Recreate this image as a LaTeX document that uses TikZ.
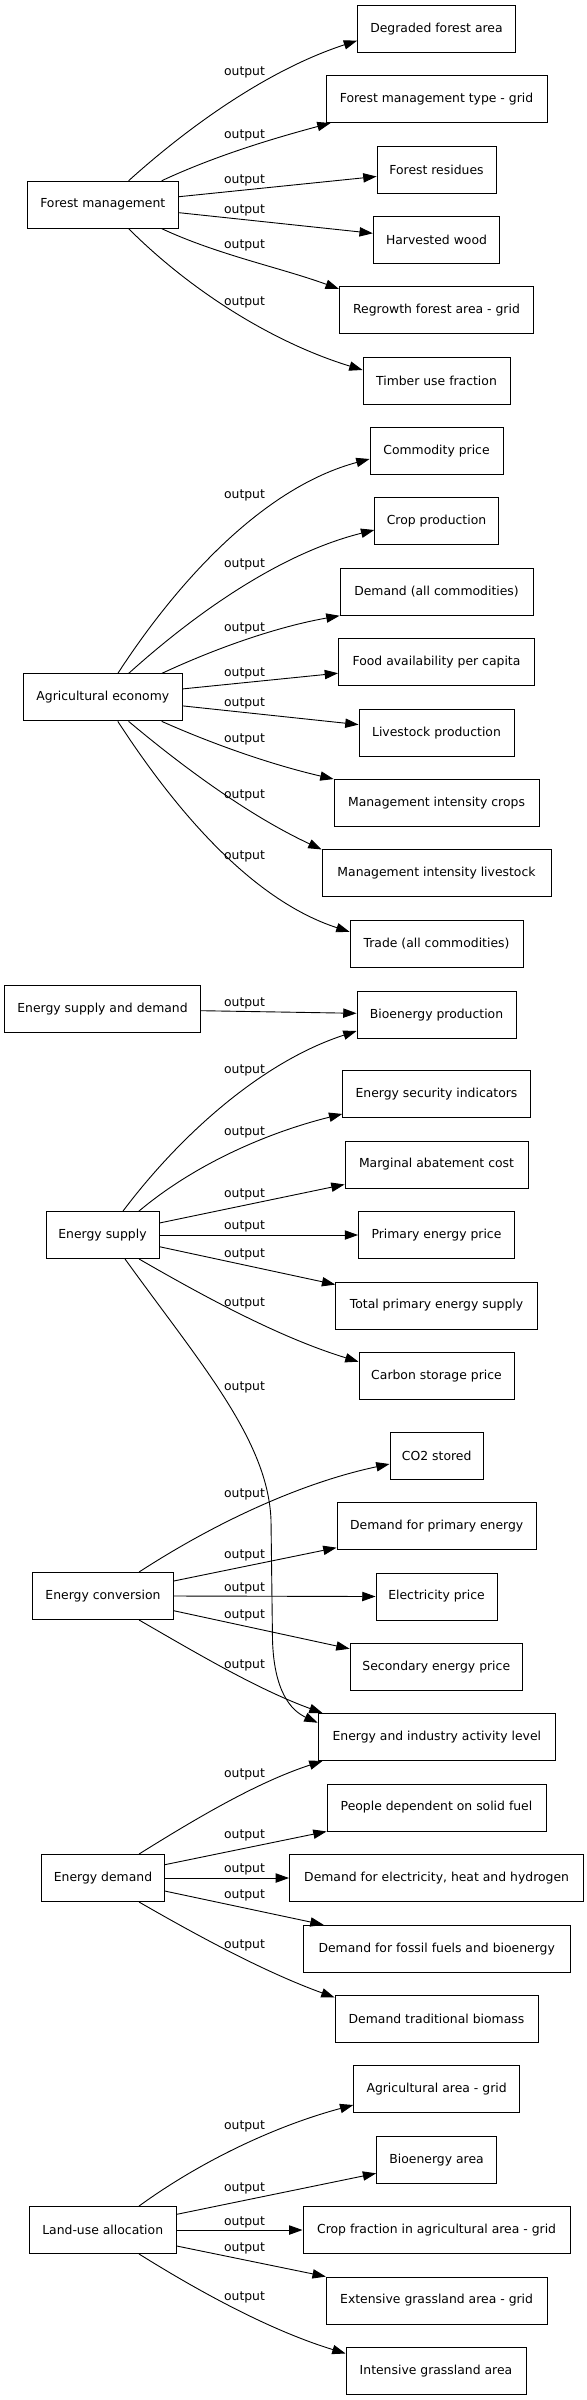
\documentclass[tikz,border=0pt]{standalone}
\usepackage{fontspec}
\setmainfont{DejaVu Sans}
\usetikzlibrary{arrows.meta}
\begin{document}
\begin{tikzpicture}[x=1pt,y=1pt,
  box/.style={draw=black, line width=0.9pt, minimum height=47pt, inner sep=0pt, font=\fontsize{12.4}{14}\selectfont},
  edge/.style={draw=black, line width=0.9pt, -{Triangle[length=13.3pt,width=9.3pt]}},
  lbl/.style={font=\fontsize{12.4}{14}\selectfont, inner sep=0pt},
  crv/.style={looseness=0.85}
]
\fill[white] (0,0) rectangle (586,-2400);
\useasboundingbox (0,0) rectangle (586,-2400);

% ---------- Forest management ----------
\node[box, minimum width=151.6pt] (fm) at (102.8,-204.7) {Forest management};
\node[box, minimum width=158pt] (deg) at (436.5,-28.7) {Degraded forest area};
\node[box, minimum width=221pt] (fmt) at (436.5,-99.1) {Forest management type - grid};
\node[box, minimum width=119pt] (res) at (436.5,-169.5) {Forest residues};
\node[box, minimum width=126.5pt] (harv) at (436.5,-239.9) {Harvested wood};
\node[box, minimum width=194.5pt] (regr) at (436.5,-310.3) {Regrowth forest area - grid};
\node[box, minimum width=147pt] (timb) at (436.5,-380.7) {Timber use fraction};

\draw[edge] ([xshift=25.8pt]fm.north) to[out=42,in=198,crv] ([yshift=-12pt]deg.west);
\draw[edge] ([xshift=58.9pt]fm.north) to[out=25,in=195,crv] ([xshift=5pt]fmt.south west);
\draw[edge] ([yshift=8pt]fm.east) -- ([yshift=-7pt]res.west);
\draw[edge] ([yshift=-8pt]fm.east) -- ([yshift=6.6pt]harv.west);
\draw[edge] ([xshift=58.9pt]fm.south) to[out=-25,in=160,crv] ([yshift=-2.5pt]regr.north west);
\draw[edge] ([xshift=25.8pt]fm.south) to[out=-45,in=163,crv] ([yshift=10.7pt]timb.west);

\node[lbl] (l11) at (244.5,-72) {output};
\node[lbl] (l12) at (244.5,-135.7) {output};
\node[lbl] (l13) at (244.5,-180.7) {output};
\node[lbl] (l14) at (244.5,-210.7) {output};
\node[lbl] (l15) at (244.5,-245.7) {output};
\node[lbl] (l16) at (244.5,-302.7) {output};

% ---------- Agricultural economy ----------
\node[box, minimum width=159pt] (ae) at (102.8,-697.4) {Agricultural economy};
\node[box, minimum width=133pt] (com) at (436.5,-451) {Commodity price};
\node[box, minimum width=123.5pt] (crop) at (436.5,-521.4) {Crop production};
\node[box, minimum width=193pt] (dem) at (436.5,-591.8) {Demand (all commodities)};
\node[box, minimum width=196pt] (food) at (436.5,-662.2) {Food availability per capita};
\node[box, minimum width=155pt] (live) at (436.5,-732.6) {Livestock production};
\node[box, minimum width=205pt] (mic) at (436.5,-803) {Management intensity crops};
\node[box, minimum width=229pt] (mil) at (436.5,-873.4) {Management intensity livestock};
\node[box, minimum width=173pt] (trade) at (436.5,-943.8) {Trade (all commodities)};

\draw[edge] ([xshift=15pt]ae.north) to[out=57,in=195,crv] ([yshift=-8pt]com.west);
\draw[edge] ([xshift=25.8pt]ae.north) to[out=42,in=194,crv] ([yshift=-8.6pt]crop.west);
\draw[edge] ([xshift=58.9pt]ae.north) to[out=25,in=190,crv] (dem.south west);
\draw[edge] ([yshift=8.5pt]ae.east) -- ([yshift=-11pt]food.west);
\draw[edge] ([yshift=-8.5pt]ae.east) -- ([yshift=8pt]live.west);
\draw[edge] ([xshift=58.9pt]ae.south) to[out=-24,in=167,crv] (mic.north west);
\draw[edge] ([xshift=25.8pt]ae.south) to[out=-40,in=155,crv] (mil.north west);
\draw[edge] ([xshift=15pt]ae.south) to[out=-57,in=162,crv] ([yshift=12pt]trade.west);

\node[lbl] (l21) at (244.5,-495.6) {output};
\node[lbl] (l22) at (244.5,-564.7) {output};
\node[lbl] (l23) at (244.5,-628.4) {output};
\node[lbl] (l24) at (244.5,-673.5) {output};
\node[lbl] (l25) at (244.5,-703.6) {output};
\node[lbl] (l26) at (244.5,-739) {output};
\node[lbl] (l27) at (244.5,-795.6) {output};
\node[lbl] (l28) at (244.5,-856.7) {output};

% ---------- Energy supply ----------
\node[box, minimum width=196pt] (esd) at (102.5,-1009) {Energy supply and demand};
\node[box, minimum width=159pt] (bio) at (436.5,-1014.7) {Bioenergy production};
\node[box, minimum width=113pt] (es) at (102.5,-1235) {Energy supply};
\node[box, minimum width=187.5pt] (esi) at (436.5,-1094) {Energy security indicators};
\node[box, minimum width=183pt] (mac) at (436.5,-1164.5) {Marginal abatement cost};
\node[box, minimum width=156pt] (pep) at (436.5,-1235) {Primary energy price};
\node[box, minimum width=201.6pt] (tpes) at (436.5,-1305.5) {Total primary energy supply};
\node[box, minimum width=155pt] (csp) at (436.5,-1376) {Carbon storage price};

% ---------- Energy conversion ----------
\node[box, minimum width=140.6pt] (ec) at (103,-1596) {Energy conversion};
\node[box, minimum width=93.5pt] (co2) at (436.7,-1455.7) {CO2 stored};
\node[box, minimum width=199.5pt] (dpe) at (436.7,-1526) {Demand for primary energy};
\node[box, minimum width=121pt] (elec) at (436.5,-1596.5) {Electricity price};
\node[box, minimum width=172.6pt] (sep) at (436.3,-1666.7) {Secondary energy price};
\node[box, minimum width=237.6pt] (eai) at (436.8,-1737) {Energy and industry activity level};

\draw[edge] ([yshift=-1.7pt]esd.east) -- ([yshift=1.4pt]bio.west);
\draw[edge] ([xshift=20.5pt]es.north) to[out=53,in=198,crv] ([yshift=-16.3pt]bio.west);
\draw[edge] ([xshift=36.5pt]es.north) to[out=40,in=194,crv] ([yshift=4pt]esi.south west);
\draw[edge] ([yshift=12pt]es.east) -- ([yshift=4pt]mac.south west);
\draw[edge] (es.east) -- (pep.west);
\draw[edge] ([yshift=-11.7pt]es.east) -- ([yshift=-3pt]tpes.north west);
\draw[edge] ([xshift=36.5pt]es.south) to[out=-30,in=163,crv] ([yshift=14.3pt]csp.west);
\draw[edge] ([xshift=22.5pt]es.south) .. controls (200,-1363) and (268,-1440) .. (271,-1520)
   -- (272.5,-1640) .. controls (274,-1690) and (290,-1710) .. ([yshift=14.3pt]eai.west);

\node[lbl] (l30) at (244.5,-1003.7) {output};
\node[lbl] (l31) at (244.5,-1070.7) {output};
\node[lbl] (l32) at (244.5,-1132) {output};
\node[lbl] (l33) at (244.5,-1194) {output};
\node[lbl] (l34) at (244.5,-1226.7) {output};
\node[lbl] (l35) at (244.5,-1254.7) {output};
\node[lbl] (l36) at (244.5,-1303) {output};
\node[lbl] (l37) at (244.5,-1387.7) {output};

\draw[edge] ([xshift=36pt]ec.north) to[out=33,in=192,crv] ([yshift=-8.3pt]co2.west);
\draw[edge] ([yshift=15pt]ec.east) -- ([yshift=2.3pt]dpe.south west);
\draw[edge] (ec.east) -- (elec.west);
\draw[edge] ([yshift=-14.7pt]ec.east) -- ([yshift=-6pt]sep.north west);
\draw[edge] ([xshift=36pt]ec.south) to[out=-30,in=160,crv] ([xshift=5pt]eai.north west);

\node[lbl] (l41) at (244.5,-1494.7) {output};
\node[lbl] (l42) at (244.5,-1555) {output};
\node[lbl] (l43) at (244.5,-1588.7) {output};
\node[lbl] (l44) at (244.5,-1615.7) {output};
\node[lbl] (l45) at (244.5,-1665.7) {output};

% ---------- Energy demand ----------
\node[box, minimum width=122.6pt] (ed) at (103,-1878) {Energy demand};
\node[box, minimum width=219pt] (pdsf) at (436.5,-1807.5) {People dependent on solid fuel};
\node[box, minimum width=294.3pt] (dehh) at (436.6,-1878) {Demand for electricity, heat and hydrogen};
\node[box, minimum width=266.6pt] (dffb) at (436.7,-1948.7) {Demand for fossil fuels and bioenergy};
\node[box, minimum width=203pt] (dtb) at (436.5,-2019) {Demand traditional biomass};

\draw[edge] ([xshift=36pt]ed.north) to[out=32,in=198,crv] ([xshift=5pt]eai.south west);
\draw[edge] ([yshift=13.3pt]ed.east) -- (pdsf.south west);
\draw[edge] (ed.east) -- (dehh.west);
\draw[edge] ([yshift=-13pt]ed.east) -- ([xshift=20.6pt]dffb.north west);
\draw[edge] ([xshift=36pt]ed.south) to[out=-30,in=160,crv] ([yshift=-2.4pt]dtb.north west);

\node[lbl] (l51) at (244.5,-1774) {output};
\node[lbl] (l52) at (244.5,-1835.3) {output};
\node[lbl] (l53) at (244.5,-1869.3) {output};
\node[lbl] (l54) at (244.5,-1895.3) {output};
\node[lbl] (l55) at (244.5,-1945.3) {output};

% ---------- Land-use allocation ----------
\node[box, minimum width=147.3pt] (lua) at (102.7,-2230) {Land-use allocation};
\node[box, minimum width=165.7pt] (aag) at (436.6,-2089) {Agricultural area - grid};
\node[box, minimum width=120pt] (ba) at (436.6,-2160) {Bioenergy area};
\node[box, minimum width=267.3pt] (cf) at (436.6,-2230) {Crop fraction in agricultural area - grid};
\node[box, minimum width=220.7pt] (ega) at (436.6,-2300.5) {Extensive grassland area - grid};
\node[box, minimum width=180pt] (iga) at (436,-2371) {Intensive grassland area};

\draw[edge] ([xshift=36.3pt]lua.north) to[out=36,in=195,crv] ([yshift=-16pt]aag.west);
\draw[edge] ([yshift=15.7pt]lua.east) -- ([yshift=-13.3pt]ba.west);
\draw[edge] (lua.east) -- (cf.west);
\draw[edge] ([yshift=-16pt]lua.east) -- (ega.north west);
\draw[edge] ([xshift=36.3pt]lua.south) to[out=-32,in=163,crv] ([yshift=-6.4pt]iga.north west);

\node[lbl] (l61) at (244.5,-2126.7) {output};
\node[lbl] (l62) at (244.5,-2188.7) {output};
\node[lbl] (l63) at (244.5,-2222.7) {output};
\node[lbl] (l64) at (244.5,-2248.7) {output};
\node[lbl] (l65) at (244.5,-2297.7) {output};
\end{tikzpicture}
\end{document}
